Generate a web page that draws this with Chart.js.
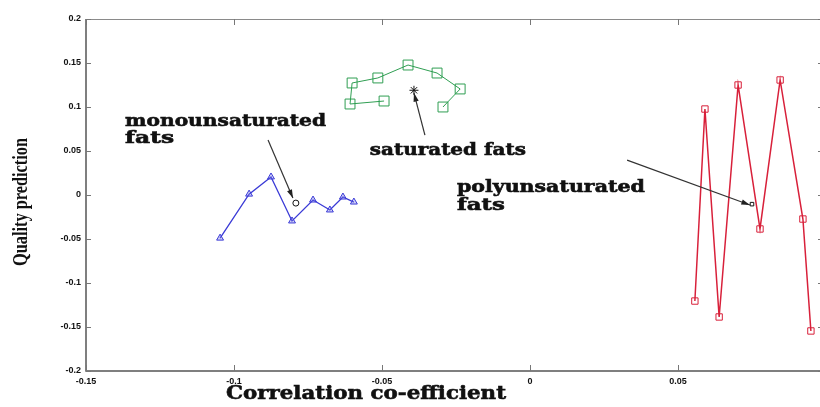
<!DOCTYPE html>
<html>
<head>
<meta charset="utf-8">
<script src="https://cdn.jsdelivr.net/npm/chart.js@4/dist/chart.umd.min.js"></script>
<style>
  html, body { margin: 0; padding: 0; background: #fff; overflow: hidden; }
  #wrap { width: 840px; height: 407px; }
</style>
</head>
<body>
<div id="wrap"><canvas id="c" width="840" height="407"></canvas></div>
<script>
// values
const monoX = [-0.1047, -0.0949, -0.0875, -0.0804, -0.0733, -0.0676, -0.0632, -0.0595];
const monoY = [-0.049, 0.001, 0.0205, -0.0295, -0.0057, -0.017, -0.0023, -0.008];
const satX = [-0.0493, -0.0608, -0.0601, -0.0514, -0.0412, -0.0314, -0.0236, -0.0294];
const satY = [0.1068, 0.1034, 0.1273, 0.133, 0.1477, 0.1386, 0.1205, 0.100];
const polyX = [0.0557, 0.0591, 0.0639, 0.0703, 0.0777, 0.0845, 0.0922, 0.0949];
const polyY = [-0.1205, 0.0977, -0.1386, 0.125, -0.0386, 0.1307, -0.0273, -0.1545];
const xTicks = [-0.15, -0.1, -0.05, 0, 0.05, 0.1];
const yTicks = [-0.2, -0.15, -0.1, -0.05, 0, 0.05, 0.1, 0.15, 0.2];

// labels and arrows for the three groups
const labels = [
    {text: "monounsaturated", x: -0.1368, y: 0.0784, w: 201},
    {text: "fats", x: -0.1368, y: 0.0590, w: 49},
    {text: "saturated fats", x: -0.0541, y: 0.0455, w: 156},
    {text: "polyunsaturated", x: -0.0247, y: 0.0034, w: 188},
    {text: "fats", x: -0.0247, y: -0.0170, w: 48},
];
const arrows = [
    {from: [-0.0885, 0.0625], to: [-0.0801, -0.0035]},
    {from: [-0.0355, 0.0680], to: [-0.0392, 0.1158]},
    {from: [0.0328, 0.0397], to: [0.0743, -0.0114]},
];
const markX = [-0.0392, -0.0791, 0.0750];
const markY = [0.119, -0.0092, -0.0104];

const toPts = (xs, ys) => xs.map((x, i) => ({x: x, y: ys[i]}));

function fitText(ctx, text, x, y, w, heavy) {
    const m = ctx.measureText(text).width;
    ctx.save();
    ctx.translate(x, y);
    ctx.scale(w / m, 1);
    ctx.fillText(text, 0, 0);
    if (heavy) {
        ctx.lineWidth = 0.6;
        ctx.strokeText(text, 0, 0);
    }
    ctx.restore();
}

const decor = {
    id: "decor",
    afterDatasetsDraw(chart) {
        const ctx = chart.ctx;
        const a = chart.chartArea;
        const xs = chart.scales.x, ys = chart.scales.y;
        ctx.save();
        // box
        ctx.strokeStyle = "#8a8a8a";
        ctx.lineWidth = 1;
        ctx.beginPath();
        ctx.moveTo(a.left, a.top + 0.5); ctx.lineTo(a.right, a.top + 0.5);
        ctx.moveTo(a.right - 0.5, a.top); ctx.lineTo(a.right - 0.5, a.bottom);
        ctx.stroke();
        ctx.strokeStyle = "#555";
        ctx.lineWidth = 1.5;
        ctx.beginPath();
        ctx.moveTo(a.left, a.top); ctx.lineTo(a.left, a.bottom);
        ctx.lineTo(a.right, a.bottom);
        ctx.stroke();
        // inward ticks
        ctx.lineWidth = 1;
        ctx.strokeStyle = "#777";
        ctx.beginPath();
        yTicks.forEach(v => {
            const p = Math.round(ys.getPixelForValue(v)) + 0.5;
            ctx.moveTo(a.left, p); ctx.lineTo(a.left + 5, p);
            ctx.moveTo(a.right, p); ctx.lineTo(a.right - 8, p);
        });
        xTicks.forEach(v => {
            const p = Math.round(xs.getPixelForValue(v)) + 0.5;
            ctx.moveTo(p, a.bottom); ctx.lineTo(p, a.bottom - 6);
            ctx.moveTo(p, a.top); ctx.lineTo(p, a.top + 6);
        });
        ctx.stroke();
        // arrows
        ctx.strokeStyle = "#333";
        ctx.fillStyle = "#222";
        ctx.lineWidth = 1.2;
        arrows.forEach(ar => {
            const x1 = xs.getPixelForValue(ar.from[0]), y1 = ys.getPixelForValue(ar.from[1]);
            const x2 = xs.getPixelForValue(ar.to[0]), y2 = ys.getPixelForValue(ar.to[1]);
            const ang = Math.atan2(y2 - y1, x2 - x1);
            ctx.beginPath();
            ctx.moveTo(x1, y1); ctx.lineTo(x2, y2);
            ctx.stroke();
            ctx.beginPath();
            ctx.moveTo(x2, y2);
            ctx.lineTo(x2 - 9 * Math.cos(ang - 0.3), y2 - 9 * Math.sin(ang - 0.3));
            ctx.lineTo(x2 - 9 * Math.cos(ang + 0.3), y2 - 9 * Math.sin(ang + 0.3));
            ctx.closePath();
            ctx.fill();
        });
        // group labels
        ctx.fillStyle = "#111";
        ctx.strokeStyle = "#111";
        ctx.font = "bold 17px 'DejaVu Serif'";
        ctx.textBaseline = "alphabetic";
        labels.forEach(l => {
            fitText(ctx, l.text, xs.getPixelForValue(l.x), ys.getPixelForValue(l.y), l.w, true);
        });
        // axis titles
        ctx.font = "bold 19px 'DejaVu Serif'";
        fitText(ctx, "Correlation co-efficient", 226, 399, 280, true);
        ctx.save();
        ctx.translate(27, 266);
        ctx.rotate(-Math.PI / 2);
        ctx.font = "bold 20px 'Liberation Serif'";
        fitText(ctx, "Quality prediction", 0, 0, 128, false);
        ctx.restore();
        ctx.restore();
    }
};

const tickFmt = v => String(+(+v).toFixed(2));

new Chart(document.getElementById("c"), {
    type: "scatter",
    data: {
        datasets: [
            {
                label: "monounsaturated fats",
                data: toPts(monoX, monoY),
                showLine: true,
                borderColor: "#3a3ad6",
                backgroundColor: "rgba(120,120,230,0.35)",
                borderWidth: 1.3,
                pointStyle: "triangle",
                pointRadius: 4,
                pointBorderWidth: 1,
            },
            {
                label: "saturated fats",
                data: toPts(satX, satY),
                showLine: true,
                borderColor: "#2f9e52",
                backgroundColor: "rgba(255,255,255,0)",
                borderWidth: 1,
                pointStyle: "rect",
                pointRadius: 7,
                pointBorderWidth: 1,
            },
            {
                label: "polyunsaturated fats",
                data: toPts(polyX, polyY),
                showLine: true,
                borderColor: "#d8203a",
                backgroundColor: "rgba(255,255,255,0)",
                borderWidth: 1.5,
                pointStyle: "rect",
                pointRadius: 4.5,
                pointBorderWidth: 1,
            },
            {
                label: "marks",
                data: toPts(markX, markY),
                showLine: false,
                borderColor: "#111",
                backgroundColor: "rgba(0,0,0,0)",
                pointStyle: ["star", "circle", "rect"],
                pointRadius: [4.5, 3, 2.5],
                pointBorderWidth: 1,
            },
        ]
    },
    options: {
        responsive: false,
        animation: false,
        layout: {padding: {left: 0, top: 19, right: 14, bottom: 0}},
        plugins: {legend: {display: false}, tooltip: {enabled: false}},
        scales: {
            x: {
                type: "linear",
                min: -0.15, max: 0.1,
                grid: {display: false, drawTicks: false},
                border: {display: false},
                afterBuildTicks: s => { s.ticks = xTicks.map(v => ({value: v})); },
                afterFit: s => { s.height = 36; },
                ticks: {
                    padding: 5,
                    color: "#111",
                    font: {family: "'Liberation Sans'", size: 9, weight: "bold"},
                    callback: tickFmt,
                    maxRotation: 0,
                },
            },
            y: {
                min: -0.2, max: 0.2,
                grid: {display: false, drawTicks: false},
                border: {display: false},
                afterBuildTicks: s => { s.ticks = yTicks.map(v => ({value: v})); },
                afterFit: s => { s.width = 86; },
                ticks: {
                    padding: 5,
                    color: "#111",
                    font: {family: "'Liberation Sans'", size: 9, weight: "bold"},
                    callback: tickFmt,
                },
            },
        },
    },
    plugins: [decor],
});
</script>
</body>
</html>
